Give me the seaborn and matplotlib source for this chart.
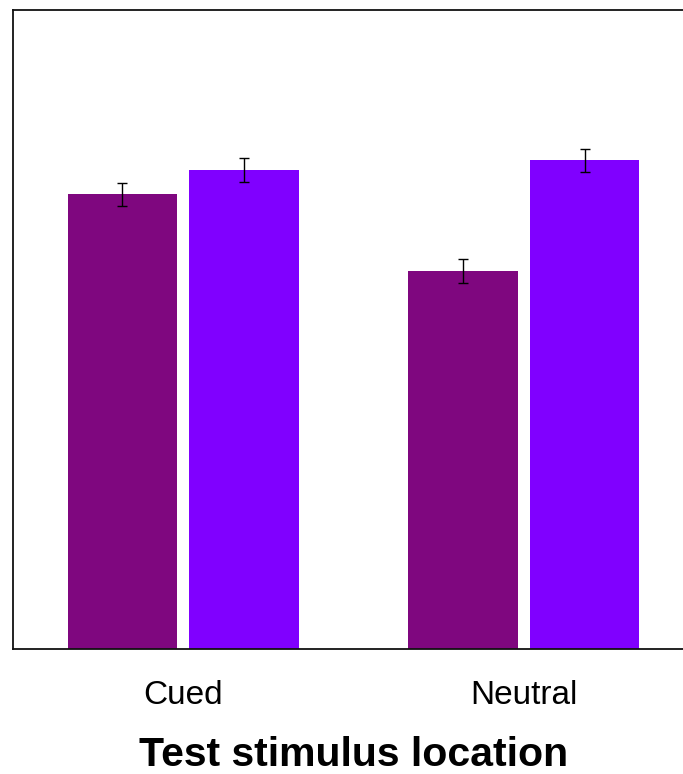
import pandas as pd
import matplotlib.pyplot as plt
import seaborn as sns

# Values (arbitrary 0-1 scale, no y ticks shown)
locations = ["Cued", "Neutral"]
groups = ["Group 1", "Group 2"]
cued_means = [0.712, 0.750]
neutral_means = [0.592, 0.765]
cued_err = [0.018, 0.019]
neutral_err = [0.019, 0.018]
bar_colors = ["#7F077F", "#8000FF"]

data = pd.DataFrame({
    "location": [locations[0]] * 2 + [locations[1]] * 2,
    "group": groups * 2,
    "mean": cued_means + neutral_means,
    "err": cued_err + neutral_err,
})

sns.set_style("white")
plt.rcParams["font.family"] = ["Liberation Sans", "DejaVu Sans"]
plt.rcParams["text.color"] = "black"
plt.rcParams["xtick.color"] = "black"
plt.rcParams["axes.labelcolor"] = "black"

fig = plt.figure(figsize=(6.83, 7.74), dpi=100)
ax = fig.add_axes([13 / 683, 1 - 649 / 774, 681 / 683, 639 / 774])

sns.barplot(data=data, x="location", y="mean", hue="group", order=locations,
            hue_order=groups, palette=bar_colors, saturation=1, width=0.715,
            gap=0.1, errorbar=None, linewidth=0, legend=False, ax=ax)

# error bars at the bar centres, matched by bar height
for patch in ax.patches:
    h = patch.get_height()
    row = data.loc[(data["mean"] - h).abs().idxmin()]
    ax.errorbar(patch.get_x() + patch.get_width() / 2, h, yerr=row["err"],
                fmt="none", ecolor="black", elinewidth=1.0, capsize=3.5,
                capthick=1.0)

ax.set_xlim(-0.5, 1.5)
ax.set_ylim(0, 1)
ax.set_yticks([])
ax.set_ylabel("")
ax.tick_params(axis="x", length=0, pad=22, labelsize=24)
ax.set_xlabel("Test stimulus location", fontsize=29.5, fontweight="bold",
              labelpad=18)
for side in ["left", "top", "bottom"]:
    ax.spines[side].set_color("#111111")
    ax.spines[side].set_linewidth(1.3)
ax.spines["right"].set_visible(False)

fig.savefig("out.png", dpi=100)
